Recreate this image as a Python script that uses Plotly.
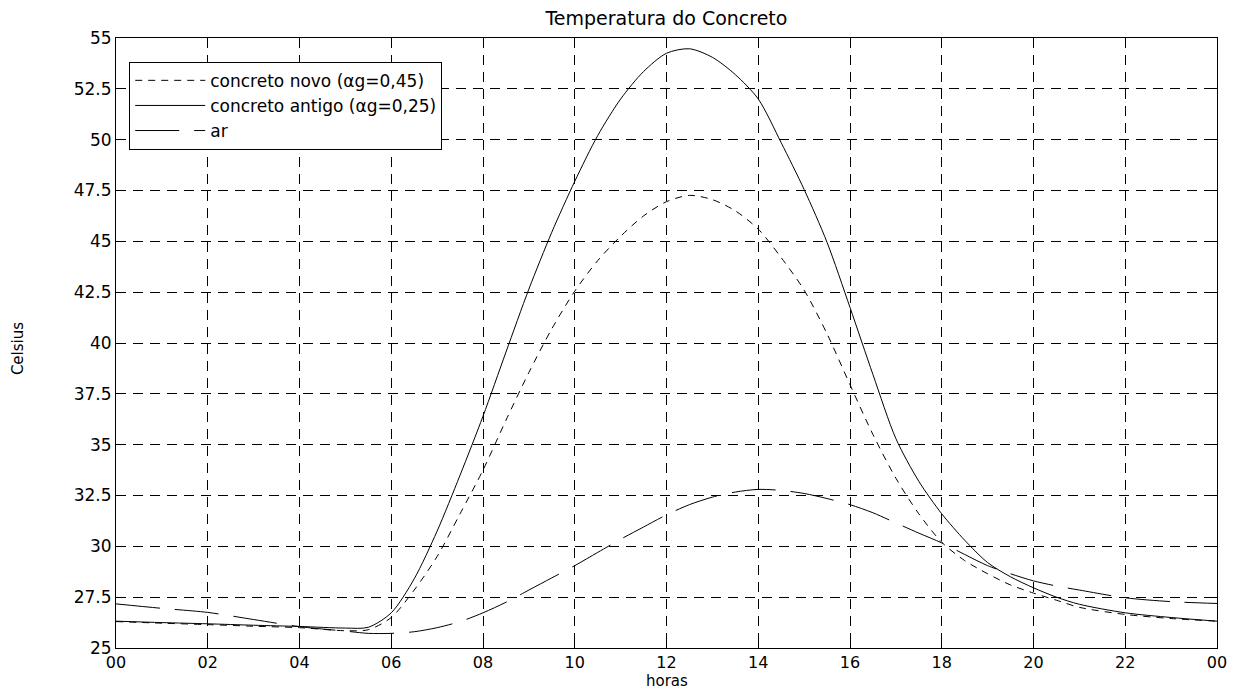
import plotly.graph_objects as go

hours = [0, 1, 2, 3, 4, 5, 5.5, 6, 6.5, 7, 7.5, 8, 8.5, 9, 9.5, 10, 10.5, 11, 11.5, 12,
         12.5, 13, 13.5, 14, 14.5, 15, 15.5, 16, 16.5, 17, 17.5, 18, 18.5, 19, 19.5, 20,
         20.5, 21, 22, 23, 24]

concreto_novo = [26.30, 26.22, 26.15, 26.07, 26.00, 25.85, 25.90, 26.50, 27.85, 29.50,
                 31.60, 33.75, 36.20, 38.55, 40.70, 42.55, 44.05, 45.25, 46.25, 46.95,
                 47.26, 47.05, 46.50, 45.60, 44.20, 42.60, 40.45, 37.95, 35.50, 33.35,
                 31.60, 30.20, 29.30, 28.65, 28.10, 27.70, 27.35, 27.00, 26.65, 26.45, 26.32]

concreto_antigo = [26.32, 26.25, 26.19, 26.12, 26.06, 25.98, 26.02, 26.73, 28.40, 30.75,
                   33.50, 36.40, 39.55, 42.65, 45.45, 47.95, 50.20, 52.00, 53.35, 54.25,
                   54.47, 54.05, 53.20, 52.00, 49.85, 47.55, 44.95, 41.75, 38.45, 35.30,
                   33.20, 31.60, 30.30, 29.20, 28.50, 27.96, 27.50, 27.15, 26.73, 26.50, 26.32]

ar = [27.17, 26.95, 26.75, 26.40, 26.05, 25.83, 25.72, 25.72, 25.80, 26.00,
      26.30, 26.73, 27.25, 27.85, 28.45, 29.05, 29.70, 30.35, 30.95, 31.55,
      32.05, 32.42, 32.67, 32.80, 32.75, 32.60, 32.35, 32.05, 31.65, 31.15,
      30.65, 30.17, 29.60, 29.05, 28.65, 28.30, 28.05, 27.85, 27.47, 27.28, 27.19]

x_tickvals = [0, 2, 4, 6, 8, 10, 12, 14, 16, 18, 20, 22, 24]
x_ticktext = ["00", "02", "04", "06", "08", "10", "12", "14", "16", "18", "20", "22", "00"]
y_tickvals = [25, 27.5, 30, 32.5, 35, 37.5, 40, 42.5, 45, 47.5, 50, 52.5, 55]
y_ticktext = ["25", "27.5", "30", "32.5", "35", "37.5", "40", "42.5", "45", "47.5", "50", "52.5", "55"]

FONT = "DejaVu Sans"

fig = go.Figure()
fig.add_trace(go.Scatter(x=hours, y=concreto_novo, mode="lines",
                         name="concreto novo (αg=0,45)",
                         line=dict(color="black", width=1, dash="7px,6px", shape="spline", smoothing=0.8)))
fig.add_trace(go.Scatter(x=hours, y=concreto_antigo, mode="lines",
                         name="concreto antigo (αg=0,25)",
                         line=dict(color="black", width=1, shape="spline", smoothing=0.8)))
fig.add_trace(go.Scatter(x=hours, y=ar, mode="lines", name="ar",
                         line=dict(color="black", width=1, dash="44px,15px", shape="spline", smoothing=0.8)))

axis_common = dict(
    showline=True, linecolor="black", linewidth=1, mirror="allticks",
    ticks="inside", ticklen=6, tickcolor="black",
    showgrid=True, gridcolor="black", gridwidth=1, griddash="10px,7px",
    zeroline=False, automargin=False,
)

fig.update_xaxes(range=[0, 24], tickvals=x_tickvals, ticktext=x_ticktext,
                 tickfont=dict(family=FONT, size=16, color="black"), **axis_common)
fig.update_yaxes(range=[25, 55], tickvals=y_tickvals, ticktext=y_ticktext,
                 tickfont=dict(family=FONT, size=17, color="black"), **axis_common)

fig.update_layout(
    width=1233, height=691,
    margin=dict(l=116, r=16, t=38, b=43),
    paper_bgcolor="white", plot_bgcolor="white",
    title=dict(text="Temperatura do Concreto", x=0.5405, xanchor="center", y=0.974, yanchor="middle",
               font=dict(family=FONT, size=19, color="black")),
    font=dict(family=FONT, color="black"),
    legend=dict(x=0.012, y=0.961, xanchor="left", yanchor="top",
                bgcolor="white", bordercolor="black", borderwidth=1,
                itemwidth=70, tracegroupgap=0,
                font=dict(family=FONT, size=17, color="black")),
    showlegend=True,
    annotations=[
        dict(text="horas", xref="paper", yref="paper", x=0.5, y=-0.0545,
             xanchor="center", yanchor="middle", showarrow=False,
             font=dict(family=FONT, size=15, color="black")),
        dict(text="Celsius", xref="paper", yref="paper", x=-0.089, y=0.49,
             xanchor="center", yanchor="middle", showarrow=False, textangle=-90,
             font=dict(family=FONT, size=15, color="black")),
    ],
)

fig.write_html("out.html")
